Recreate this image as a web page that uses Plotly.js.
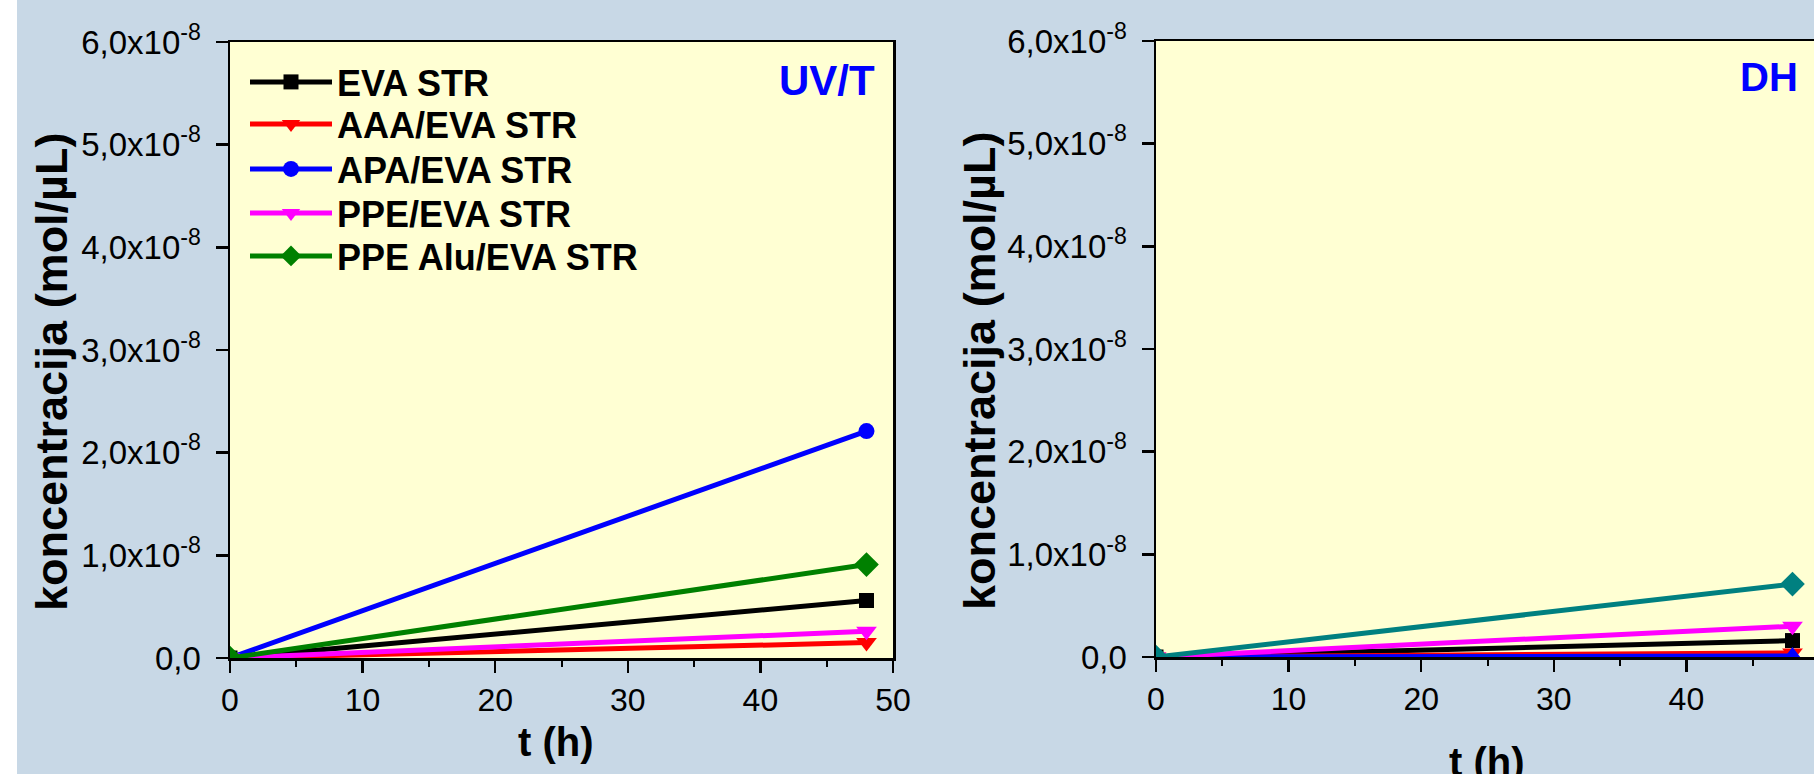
<!DOCTYPE html>
<html>
<head>
<meta charset="utf-8">
<script src="https://cdn.plot.ly/plotly-3.0.1.min.js"></script>
<style>
html, body { margin: 0; padding: 0; background: #ffffff; overflow: hidden; width: 1814px; height: 774px; }
#chart { position: absolute; left: 17px; top: 0; width: 1814px; height: 774px; }
</style>
</head>
<body>
<div id="chart"></div>
<script>
// ---- data ----
const time = [0, 48];
const seriesNames = ['EVA STR', 'AAA/EVA STR', 'APA/EVA STR', 'PPE/EVA STR', 'PPE Alu/EVA STR'];
// UV/T panel (mol/µL)
const evaUV = [0, 0.56e-8];
const aaaUV = [0, 0.15e-8];
const apaUV = [0, 2.21e-8];
const ppeUV = [0, 0.26e-8];
const aluUV = [0, 0.91e-8];
// DH panel (mol/µL)
const evaDH = [0, 0.16e-8];
const aaaDH = [0, 0.04e-8];
const apaDH = [0, 0.01e-8];
const ppeDH = [0, 0.30e-8];
const aluDH = [0, 0.71e-8];
// ticks
const xTickVals = [0, 10, 20, 30, 40, 50];
const xTickText = ['0', '10', '20', '30', '40', '50'];
const yTickVals = [0, 1e-8, 2e-8, 3e-8, 4e-8, 5e-8, 6e-8];
const yTickText = ['0,0', '1,0x10<sup>-8</sup>', '2,0x10<sup>-8</sup>', '3,0x10<sup>-8</sup>',
                   '4,0x10<sup>-8</sup>', '5,0x10<sup>-8</sup>', '6,0x10<sup>-8</sup>'];
const panelLabels = ['UV/T', 'DH'];
const yTitle = 'koncentracija (mol/µL)';
const xTitle = 't (h)';

// ---- styles ----
const W = 1814, H = 774, OFF = 17;
const fx = px => (px - OFF) / W;
const fy = py => 1 - py / H;
const FONT = 'Arial, "Liberation Sans", sans-serif';
const BG = '#c8d8e6';
const PLOTBG = '#ffffd3';

const uvStyles = [
  {color: '#000000', symbol: 'square', size: 15},
  {color: '#ff0000', symbol: 'triangle-down', size: 18},
  {color: '#0000ff', symbol: 'circle', size: 16},
  {color: '#ff00ff', symbol: 'triangle-down', size: 18},
  {color: '#008000', symbol: 'diamond', size: 19}
];
const dhStyles = [
  {color: '#000000', symbol: 'square', size: 15},
  {color: '#ff0000', symbol: 'triangle-down', size: 18},
  {color: '#0000ff', symbol: 'triangle-up', size: 18},
  {color: '#ff00ff', symbol: 'triangle-down', size: 18},
  {color: '#008080', symbol: 'diamond', size: 19}
];
const legendIds = ['legend', 'legend2', 'legend3', 'legend4', 'legend5'];
const legendRowY = [82, 124, 169, 213, 256];

const uvData = [evaUV, aaaUV, apaUV, ppeUV, aluUV];
const dhData = [evaDH, aaaDH, apaDH, ppeDH, aluDH];

const traces = [];
uvData.forEach((y, i) => {
  traces.push({
    x: time, y: y, name: seriesNames[i], type: 'scatter', mode: 'lines+markers',
    xaxis: 'x', yaxis: 'y', showlegend: true, legend: legendIds[i],
    line: {color: uvStyles[i].color, width: 5},
    marker: {color: uvStyles[i].color, symbol: uvStyles[i].symbol, size: uvStyles[i].size}
  });
});
dhData.forEach((y, i) => {
  traces.push({
    x: time, y: y, name: seriesNames[i], type: 'scatter', mode: 'lines+markers',
    xaxis: 'x2', yaxis: 'y2', showlegend: false,
    line: {color: dhStyles[i].color, width: 5},
    marker: {color: dhStyles[i].color, symbol: dhStyles[i].symbol, size: dhStyles[i].size}
  });
});

function xAxis(domain, anchor) {
  return {
    domain: domain, anchor: anchor, range: [0, 50], tickmode: 'array',
    tickvals: xTickVals, ticktext: xTickText,
    showline: true, linecolor: '#000', linewidth: 2.5, mirror: true,
    ticks: 'outside', ticklen: 12, tickwidth: 2.5, tickcolor: '#000',
    minor: {ticks: 'outside', ticklen: 6, tickwidth: 2, tickcolor: '#000', tickmode: 'linear', tick0: 0, dtick: 5},
    showgrid: false, zeroline: false,
    tickfont: {family: FONT, size: 32, color: '#000'}
  };
}
function yAxis(domain, anchor) {
  return {
    domain: domain, anchor: anchor, range: [0, 6e-8], tickmode: 'array',
    tickvals: yTickVals, ticktext: yTickText,
    showline: true, linecolor: '#000', linewidth: 2.5, mirror: true,
    ticks: 'outside', ticklen: 12, tickwidth: 2.5, tickcolor: '#000',
    ticklabelstandoff: 8,
    showgrid: false, zeroline: false,
    tickfont: {family: FONT, size: 33, color: '#000'}
  };
}

const layout = {
  width: W, height: H,
  margin: {l: 0, r: 0, t: 0, b: 0, pad: 0},
  paper_bgcolor: BG, plot_bgcolor: PLOTBG,
  showlegend: true,
  xaxis: xAxis([fx(230), fx(893)], 'y'),
  yaxis: yAxis([fy(658), fy(42)], 'x'),
  xaxis2: xAxis([fx(1156), fx(1819)], 'y2'),
  yaxis2: yAxis([fy(657), fy(41)], 'x2'),
  annotations: [
    {text: '<b>' + panelLabels[0] + '</b>', xref: 'paper', yref: 'paper', x: fx(877), y: fy(81),
     xanchor: 'right', yanchor: 'middle', showarrow: false,
     font: {family: FONT, size: 42, color: '#0000ff'}},
    {text: '<b>' + panelLabels[1] + '</b>', xref: 'paper', yref: 'paper', x: fx(1800), y: fy(77),
     xanchor: 'right', yanchor: 'middle', showarrow: false,
     font: {family: FONT, size: 40, color: '#0000ff'}},
    {text: '<b>' + yTitle + '</b>', xref: 'paper', yref: 'paper', x: fx(51), y: fy(372),
     xanchor: 'center', yanchor: 'middle', textangle: -90, showarrow: false,
     font: {family: FONT, size: 45, color: '#000'}},
    {text: '<b>' + yTitle + '</b>', xref: 'paper', yref: 'paper', x: fx(979), y: fy(371),
     xanchor: 'center', yanchor: 'middle', textangle: -90, showarrow: false,
     font: {family: FONT, size: 45, color: '#000'}},
    {text: '<b>' + xTitle + '</b>', xref: 'paper', yref: 'paper', x: fx(556), y: fy(742),
     xanchor: 'center', yanchor: 'middle', showarrow: false,
     font: {family: FONT, size: 40, color: '#000'}},
    {text: '<b>' + xTitle + '</b>', xref: 'paper', yref: 'paper', x: fx(1487), y: fy(762),
     xanchor: 'center', yanchor: 'middle', showarrow: false,
     font: {family: FONT, size: 40, color: '#000'}}
  ]
};
legendIds.forEach((id, i) => {
  layout[id] = {
    x: fx(245), y: fy(legendRowY[i]), xanchor: 'left', yanchor: 'middle',
    bgcolor: 'rgba(0,0,0,0)', borderwidth: 0,
    font: {family: FONT, size: 36, color: '#000', weight: 'bold'},
    itemwidth: 82
  };
});

Plotly.newPlot('chart', traces, layout, {displayModeBar: false, staticPlot: true});
</script>
</body>
</html>
